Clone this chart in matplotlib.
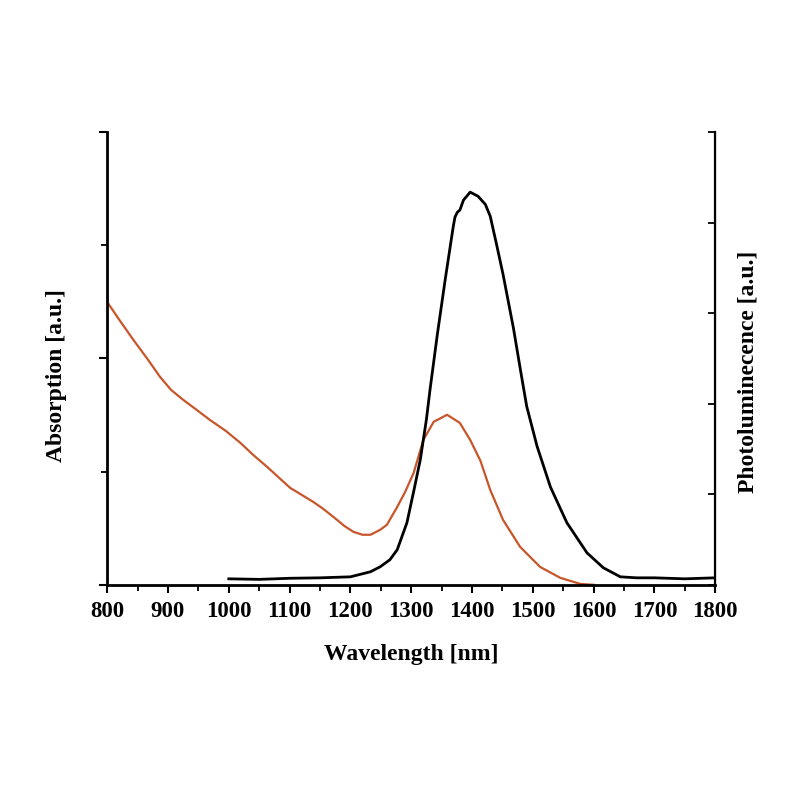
import matplotlib
matplotlib.use("Agg")
import matplotlib.pyplot as plt
from matplotlib.ticker import MultipleLocator, NullFormatter

plt.rcParams["font.family"] = ["Liberation Serif", "DejaVu Serif"]
plt.rcParams["font.weight"] = "bold"

# absorption (left axis, a.u.)
wl_abs = [800, 820, 843, 865, 887, 905, 925, 947, 969, 995, 1019, 1040, 1063, 1083, 1101,
          1120, 1139, 1155, 1172, 1190, 1205, 1220, 1233, 1249, 1260, 1277, 1290, 1304, 1320,
          1337, 1359, 1380, 1397, 1414, 1430, 1451, 1479, 1512, 1545, 1578, 1600]
absorption = [1.249, 1.170, 1.082, 1.002, 0.918, 0.861, 0.817, 0.773, 0.728, 0.680, 0.627,
              0.574, 0.521, 0.472, 0.428, 0.397, 0.366, 0.336, 0.300, 0.260, 0.234, 0.221,
              0.221, 0.243, 0.265, 0.344, 0.41, 0.494, 0.640, 0.720, 0.751, 0.715, 0.640,
              0.547, 0.419, 0.287, 0.168, 0.079, 0.031, 0.004, 0.0]

# photoluminescence (right axis, a.u.)
wl_pl = [1000, 1050, 1100, 1150, 1200, 1233, 1249, 1265, 1277, 1293, 1304, 1315, 1325, 1331,
         1343, 1356, 1369, 1372, 1376, 1380, 1386, 1397, 1410, 1422, 1430, 1441, 1451, 1468,
         1480, 1490, 1507, 1529, 1556, 1589, 1616, 1644, 1671, 1700, 1750, 1800]
pl = [0.066, 0.06, 0.072, 0.077, 0.088, 0.144, 0.199, 0.277, 0.387, 0.686, 1.029, 1.383, 1.825,
      2.157, 2.765, 3.374, 3.949, 4.06, 4.115, 4.137, 4.248, 4.336, 4.29, 4.20, 4.07, 3.74,
      3.43, 2.84, 2.36, 1.97, 1.53, 1.08, 0.686, 0.354, 0.188, 0.088, 0.077, 0.077, 0.066, 0.077]

xticks = [800, 900, 1000, 1100, 1200, 1300, 1400, 1500, 1600, 1700, 1800]

fig = plt.figure(figsize=(8, 8), dpi=100)
ax = fig.add_axes([0.134, 0.269, 0.76, 0.566])
ax2 = ax.twinx()

ax.plot(wl_abs, absorption, color="#c8562a", lw=1.6)
ax2.plot(wl_pl, pl, color="black", lw=2.0)

ax.set_xlim(800, 1800)
ax.set_ylim(0, 2)
ax2.set_ylim(0, 5)

ax.set_xticks(xticks)
ax.xaxis.set_minor_locator(MultipleLocator(50))
ax.yaxis.set_major_locator(MultipleLocator(1))
ax.yaxis.set_minor_locator(MultipleLocator(0.5))
ax.yaxis.set_major_formatter(NullFormatter())
ax2.yaxis.set_major_locator(MultipleLocator(1))
ax2.yaxis.set_major_formatter(NullFormatter())

for a in (ax, ax2):
    a.spines["top"].set_visible(False)
ax.spines["left"].set_linewidth(2.0)
ax.spines["bottom"].set_linewidth(2.0)
ax2.spines["right"].set_linewidth(1.6)
ax2.spines["left"].set_visible(False)
ax2.spines["bottom"].set_visible(False)

ax.tick_params(axis="x", which="major", direction="out", length=6, width=1.5,
               labelsize=16.5, pad=6)
ax.tick_params(axis="x", which="minor", direction="out", length=4, width=1.3)
ax.tick_params(axis="y", which="major", direction="out", length=6, width=1.5)
ax.tick_params(axis="y", which="minor", direction="out", length=4, width=1.3)
ax2.tick_params(axis="y", which="major", direction="in", length=5, width=1.3)
for lbl in ax.get_xticklabels():
    lbl.set_fontweight("bold")

ax.set_xlabel("Wavelength [nm]", fontsize=17, fontweight="bold")
ax.xaxis.set_label_coords(0.5, -0.13)
ax.set_ylabel("Absorption [a.u.]", fontsize=17, fontweight="bold")
ax.yaxis.set_label_coords(-0.066, 0.461)
ax2.set_ylabel("Photoluminecence [a.u.]", fontsize=17, fontweight="bold")
ax2.yaxis.set_label_coords(1.036, 0.47)

fig.savefig("out.png", dpi=100, facecolor="white")
